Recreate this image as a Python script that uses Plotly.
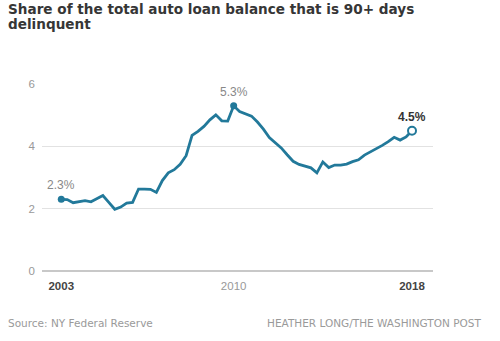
import plotly.graph_objects as go

# Quarterly share of auto loan balance 90+ days delinquent (%), 2003 Q1 - 2017 Q4
quarters = [f"{y}Q{q}" for y in range(2003, 2018) for q in range(1, 5)]
delinquent_pct = [
    2.3, 2.29, 2.19, 2.22, 2.26, 2.22, 2.32, 2.42, 2.2, 1.98,
    2.05, 2.18, 2.2, 2.63, 2.63, 2.62, 2.52, 2.9, 3.15, 3.25,
    3.42, 3.7, 4.35, 4.48, 4.64, 4.85, 5.01, 4.82, 4.81, 5.3,
    5.12, 5.05, 4.97, 4.78, 4.55, 4.28, 4.1, 3.95, 3.73, 3.52,
    3.42, 3.37, 3.31, 3.15, 3.5, 3.32, 3.4, 3.4, 3.43, 3.51,
    3.57, 3.72, 3.82, 3.92, 4.03, 4.15, 4.29, 4.2, 4.3, 4.5,
]
x_tick_quarters = ["2003Q1", "2010Q2", "2017Q4"]
x_tick_text = [
    "<b><span style='color:#444'>2003</span></b>",
    "2010",
    "<b><span style='color:#444'>2018</span></b>",
]
y_ticks = [0, 2, 4, 6]
title_lines = ["Share of the total auto loan balance that is 90+ days", "delinquent"]

LINE = "#22799a"
idx = list(range(len(quarters)))
tick_idx = [quarters.index(q) for q in x_tick_quarters]
i_start, i_peak, i_end = 0, delinquent_pct.index(max(delinquent_pct)), len(quarters) - 1

fig = go.Figure()
fig.add_trace(go.Scatter(
    x=idx, y=delinquent_pct, mode="lines",
    line=dict(color=LINE, width=2.8), hoverinfo="skip",
))
fig.add_trace(go.Scatter(
    x=[i_start, i_peak], y=[delinquent_pct[i_start], delinquent_pct[i_peak]],
    mode="markers", marker=dict(color=LINE, size=7), cliponaxis=False,
))
fig.add_trace(go.Scatter(
    x=[i_end], y=[delinquent_pct[i_end]], mode="markers", cliponaxis=False,
    marker=dict(color="white", size=8, line=dict(color=LINE, width=2)),
))

for i, bold in [(i_start, False), (i_peak, False), (i_end, True)]:
    txt = f"{delinquent_pct[i]:.1f}%"
    fig.add_annotation(
        x=i, y=delinquent_pct[i], xref="x", yref="y", yshift=14,
        text=f"<b>{txt}</b>" if bold else txt, showarrow=False,
        font=dict(size=12, color="#333" if bold else "#888"),
    )

fig.update_layout(
    width=500, height=341,
    margin=dict(l=42, r=67, t=84, b=70),
    paper_bgcolor="white", plot_bgcolor="white",
    showlegend=False,
    font=dict(family="Liberation Sans, Arial, sans-serif"),
    xaxis=dict(
        range=[-3.24, 62.53], tickmode="array", tickvals=tick_idx, ticktext=x_tick_text,
        showgrid=False, zeroline=False, showline=False, ticks="",
        ticklabelstandoff=6,
        tickfont=dict(size=11.5, color="#999"), fixedrange=True,
    ),
    yaxis=dict(
        range=[0, 6], tickvals=y_ticks, showgrid=True, gridcolor="#e2e2e2", gridwidth=1,
        zeroline=True, zerolinecolor="#c8c8c8", zerolinewidth=2, showline=False,
        ticks="", ticklabelstandoff=6,
        tickfont=dict(size=11.5, color="#999"), fixedrange=True,
    ),
)

# Headline, two lines, top-left above the plot
for line_text, y_center in zip(title_lines, [1.402, 1.322]):
    fig.add_annotation(
        x=-0.091, y=y_center, xref="paper", yref="paper", xanchor="left", yanchor="middle",
        align="left", showarrow=False, text=f"<b>{line_text}</b>",
        font=dict(family="DejaVu Sans, sans-serif", size=13.6, color="#363636"),
    )

# Footer credits
fig.add_annotation(
    x=-0.091, y=-0.28, xref="paper", yref="paper", xanchor="left", yanchor="middle",
    text="Source: NY Federal Reserve", showarrow=False,
    font=dict(family="DejaVu Sans, sans-serif", size=10.5, color="#9a9a9a"),
)
fig.add_annotation(
    x=1.128, y=-0.28, xref="paper", yref="paper", xanchor="right", yanchor="middle",
    text="HEATHER LONG/THE WASHINGTON POST", showarrow=False,
    font=dict(family="DejaVu Sans, sans-serif", size=10.5, color="#9a9a9a"),
)

fig.write_html("out.html")
